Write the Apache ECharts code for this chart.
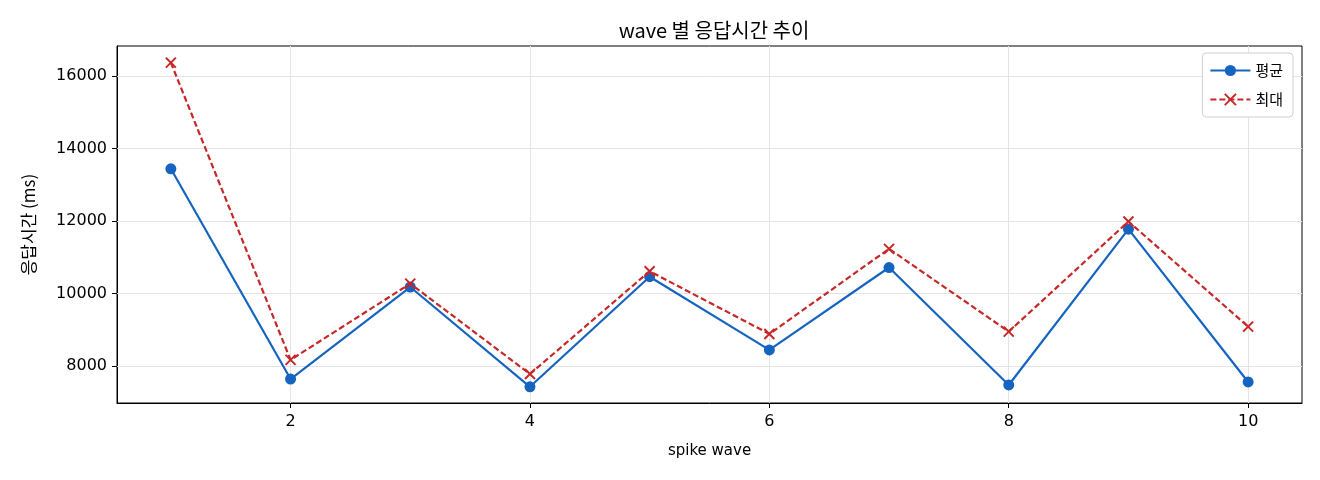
<!DOCTYPE html>
<html>
<head>
<meta charset="utf-8">
<script src="https://cdn.jsdelivr.net/npm/echarts@6/dist/echarts.min.js"></script>
<style>
html,body{margin:0;padding:0;background:#fff;}
#chart{width:1320px;height:480px;}
</style>
</head>
<body>
<div id="chart"></div>
<script>
const waves = [1, 2, 3, 4, 5, 6, 7, 8, 9, 10];
const avgValues = [13444, 7648, 10185, 7435, 10469, 8451, 10722, 7485, 11779, 7568];
const maxValues = [16370, 8176, 10278, 7787, 10620, 8892, 11237, 8956, 11991, 9094];
const xTicks = [2, 4, 6, 8, 10];
const yTicks = [8000, 10000, 12000, 14000, 16000];

const FONT = '"Noto Sans CJK KR", "Noto Sans", sans-serif';
const NUMFONT = '"DejaVu Sans", sans-serif';
const chart = echarts.init(document.getElementById('chart'), null, {renderer: 'canvas'});

const avgData = waves.map((w, i) => [w, avgValues[i]]);
const maxData = waves.map((w, i) => [w, maxValues[i]]);

chart.setOption({
  animation: false,
  backgroundColor: '#fff',
  title: {
    text: 'wave 별 응답시간 추이',
    left: 709,
    textAlign: 'center',
    top: 15,
    textStyle: {fontFamily: FONT, fontSize: 20, fontWeight: 'normal', color: '#000'}
  },
  legend: {
    orient: 'vertical',
    right: 27,
    top: 53,
    padding: [10, 10, 10, 7],
    itemGap: 14,
    itemWidth: 40,
    itemHeight: 14,
    backgroundColor: '#fff',
    borderColor: '#d0d0d0',
    borderWidth: 1,
    borderRadius: 4,
    textStyle: {fontFamily: FONT, fontSize: 15, color: '#000'},
    data: ['평균', '최대']
  },
  grid: {
    left: 117, right: 18, top: 46, bottom: 77,
    show: true, borderColor: '#000', borderWidth: 1
  },
  xAxis: {
    type: 'value',
    min: 0.55,
    max: 10.45,
    name: 'spike wave',
    nameLocation: 'middle',
    nameGap: 41,
    nameTextStyle: {fontFamily: NUMFONT, fontSize: 15, color: '#000'},
    axisLine: {show: true, onZero: false, lineStyle: {color: '#000', width: 1}},
    axisTick: {show: true, length: 5, lineStyle: {color: '#000'}, customValues: xTicks},
    axisLabel: {fontFamily: NUMFONT, fontSize: 16, color: '#000', margin: 11, customValues: xTicks},
    splitLine: {show: false}
  },
  yAxis: {
    type: 'value',
    min: 6988,
    max: 16828,
    name: '응답시간 (ms)',
    nameLocation: 'middle',
    nameGap: 80,
    nameTextStyle: {fontFamily: FONT, fontSize: 17, color: '#000'},
    axisLine: {show: true, onZero: false, lineStyle: {color: '#000', width: 1}},
    axisTick: {show: true, length: 5, lineStyle: {color: '#000'}, customValues: yTicks},
    axisLabel: {fontFamily: NUMFONT, fontSize: 16, color: '#000', margin: 10, customValues: yTicks,
      formatter: v => String(v)},
    splitLine: {show: false}
  },
  series: [
    {
      name: '평균',
      type: 'line',
      data: avgData,
      symbol: 'circle',
      symbolSize: 11,
      lineStyle: {color: '#1565C0', width: 2.2},
      itemStyle: {color: '#1565C0'},
      z: 3,
      markLine: {
        silent: true,
        symbol: 'none',
        label: {show: false},
        lineStyle: {color: '#e4e4e4', width: 1, type: 'solid'},
        z: 1,
        data: xTicks.map(v => ({xAxis: v})).concat(yTicks.map(v => ({yAxis: v})))
      }
    },
    {
      name: '최대',
      type: 'line',
      data: maxData,
      symbol: 'path://M-1,-1L1,1M1,-1L-1,1',
      symbolSize: 10,
      lineStyle: {color: '#C62828', width: 2.2, type: [6, 3]},
      itemStyle: {color: '#C62828', borderColor: '#C62828', borderWidth: 2},
      z: 4
    }
  ]
});
</script>
</body>
</html>
